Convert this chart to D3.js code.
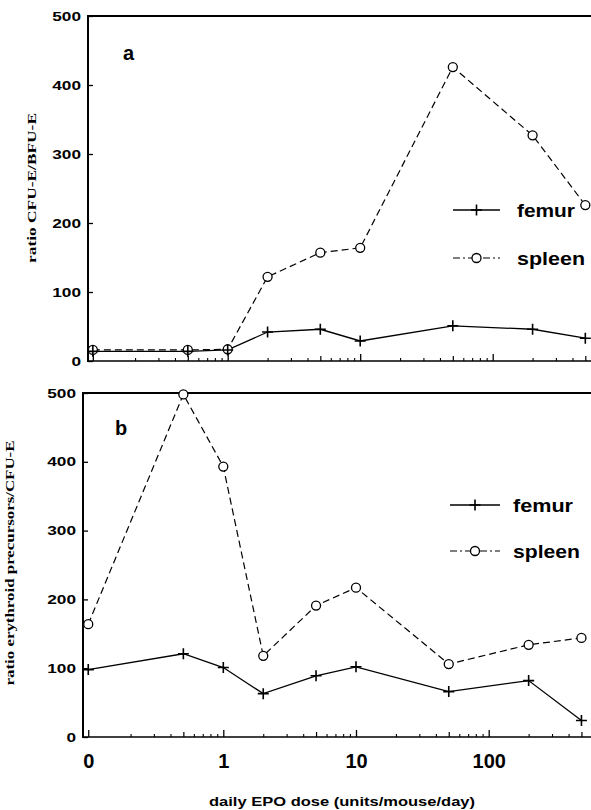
<!DOCTYPE html>
<html><head><meta charset="utf-8">
<script src="https://cdn.jsdelivr.net/npm/d3@7"></script>
<style>body{margin:0;background:#fff}svg{display:block}</style>
</head><body>
<svg id="c" width="591" height="810"></svg>
<script>
// ---- data ----
const doses = [0, 0.5, 1, 2, 5, 10, 50, 200, 500];
const zeroProxy = 0.096; // where the "0" dose sits on the log axis
const aFemur  = [14, 14, 16, 42, 46, 29, 51, 46, 33];
const aSpleen = [16, 16, 17, 122, 157, 164, 426, 327, 226];
const bFemur  = [98, 121, 101, 63, 89, 102, 66, 82, 24];
const bSpleen = [164, 498, 393, 118, 191, 217, 106, 134, 144];
const yTicks = [0, 100, 200, 300, 400, 500];
const xMajor = [0, 1, 10, 100];
const xMajorLabels = ["0", "1", "10", "100"];
const xMid = [0.5, 5, 50, 500];
const xMinor = [0.2,0.3,0.4,0.6,0.7,0.8,0.9, 2,3,4,6,7,8,9, 20,30,40,60,70,80,90, 200,300,400,600];
const seriesNames = ["femur", "spleen"];
const panelLabels = ["a", "b"];
const yTitles = ["ratio CFU-E/BFU-E", "ratio erythroid precursors/CFU-E"];
const xTitle = "daily EPO dose (units/mouse/day)";

// ---- layout ----
const W = 591;
const panels = [
  {femur: aFemur, spleen: aSpleen, axisX: 88, x1: 227.7, dec: 132.5, top: 16, bottom: 361,
   label: {x: 123, y: 60}, title: {x: 36, y: 188, len: 150},
   legend: {x0: 453, x1: 500, yF: 210, yS: 258, tx: 517, lenF: 58, lenS: 68}, showX: false},
  {femur: bFemur, spleen: bSpleen, axisX: 83, x1: 223.3, dec: 132.7, top: 393, bottom: 737,
   label: {x: 115, y: 435}, title: {x: 14, y: 563, len: 245},
   legend: {x0: 450, x1: 500, yF: 505, yS: 551, tx: 513, lenF: 60, lenS: 67}, showX: true}
];

const svg = d3.select("#c");
const sans = "'Liberation Sans', Arial, Helvetica, sans-serif";
const serif = "'Liberation Serif', 'Times New Roman', serif";

panels.forEach((p, pi) => {
  const x = d3.scaleLog().domain([1, 10]).range([p.x1, p.x1 + p.dec]);
  const xd = d => x(d === 0 ? zeroProxy : d);
  const y = d3.scaleLinear().domain([0, 500]).range([p.bottom, p.top]);
  const g = svg.append("g");

  // frame lines
  g.append("line").attr("x1", p.axisX).attr("x2", W + 5).attr("y1", y(500)).attr("y2", y(500))
    .attr("stroke", "#000").attr("stroke-width", 2);
  g.append("line").attr("x1", p.axisX).attr("x2", p.axisX).attr("y1", y(500) - 1).attr("y2", y(0) + 1)
    .attr("stroke", "#000").attr("stroke-width", 2);
  g.append("line").attr("x1", p.axisX).attr("x2", W + 5).attr("y1", y(0)).attr("y2", y(0))
    .attr("stroke", "#000").attr("stroke-width", 1.6);

  // y axis
  const ya = g.append("g").attr("transform", `translate(${p.axisX},0)`)
    .call(d3.axisLeft(y).tickValues(yTicks).tickSizeInner(-5).tickSizeOuter(0).tickPadding(7));
  ya.select(".domain").remove();
  ya.selectAll(".tick line").attr("stroke-width", 1.3);
  ya.selectAll("text").attr("font-family", sans).attr("font-weight", "bold").attr("font-size", 12.5)
    .attr("fill", "#000").attr("x", -7 / 1.38).attr("transform", "scale(1.38,1)");

  // x axis ticks (inward)
  const xg = g.append("g").attr("transform", `translate(0,${y(0)})`);
  const majorAx = d3.axisBottom(x).tickValues(xMajor.map(d => d === 0 ? zeroProxy : d))
    .tickSizeInner(-7).tickSizeOuter(0).tickPadding(17)
    .tickFormat((d, i) => p.showX ? xMajorLabels[i] : "");
  const ma = xg.append("g").call(majorAx);
  ma.select(".domain").remove();
  ma.selectAll(".tick line").attr("stroke-width", 1.3);
  ma.selectAll("text").attr("font-family", sans).attr("font-weight", "bold").attr("font-size", 20).attr("fill", "#000");
  const mid = xg.append("g").call(d3.axisBottom(x).tickValues(xMid).tickSizeInner(-5).tickSizeOuter(0).tickFormat(""));
  mid.select(".domain").remove();
  mid.selectAll(".tick line").attr("stroke-width", 1.2);
  const mn = xg.append("g").call(d3.axisBottom(x).tickValues(xMinor.filter(d => x(d) < W + 2)).tickSizeInner(-3).tickSizeOuter(0).tickFormat(""));
  mn.select(".domain").remove();
  mn.selectAll(".tick line").attr("stroke-width", 1.1);

  // lines
  const line = d3.line().x((d, i) => xd(doses[i])).y(d => y(d));
  g.append("path").datum(p.spleen).attr("d", line).attr("fill", "none").attr("stroke", "#000")
    .attr("stroke-width", 1.2).attr("stroke-dasharray", "7,4");
  g.append("path").datum(p.femur).attr("d", line).attr("fill", "none").attr("stroke", "#000")
    .attr("stroke-width", 1.3);

  // markers
  g.selectAll(".sp").data(p.spleen).join("circle").attr("class", "sp")
    .attr("cx", (d, i) => xd(doses[i])).attr("cy", d => y(d)).attr("r", 4.5)
    .attr("fill", "#fff").attr("stroke", "#000").attr("stroke-width", 1.3);
  g.selectAll(".fm").data(p.femur).join("path").attr("class", "fm")
    .attr("transform", (d, i) => `translate(${xd(doses[i])},${y(d)})`)
    .attr("d", "M-5.5,0H5.5M0,-5.5V5.5").attr("stroke", "#000").attr("stroke-width", 1.6).attr("fill", "none");

  // panel label
  g.append("text").attr("x", p.label.x).attr("y", p.label.y).text(panelLabels[pi])
    .attr("font-family", sans).attr("font-weight", "bold").attr("font-size", 20);

  // y title
  g.append("text").attr("transform", `translate(${p.title.x},${p.title.y}) rotate(-90)`)
    .attr("text-anchor", "middle").text(yTitles[pi])
    .attr("font-family", serif).attr("font-size", 12.5).attr("font-weight", "bold")
    .attr("textLength", p.title.len).attr("lengthAdjust", "spacingAndGlyphs");

  // legend
  const L = p.legend;
  g.append("line").attr("x1", L.x0).attr("x2", L.x1).attr("y1", L.yF).attr("y2", L.yF)
    .attr("stroke", "#000").attr("stroke-width", 1.3);
  g.append("path").attr("transform", `translate(${(L.x0 + L.x1) / 2},${L.yF})`)
    .attr("d", "M-5.5,0H5.5M0,-5.5V5.5").attr("stroke", "#000").attr("stroke-width", 1.6);
  g.append("line").attr("x1", L.x0).attr("x2", L.x1).attr("y1", L.yS).attr("y2", L.yS)
    .attr("stroke", "#000").attr("stroke-width", 1.2).attr("stroke-dasharray", "7,3,2,3");
  g.append("circle").attr("cx", (L.x0 + L.x1) / 2).attr("cy", L.yS).attr("r", 4.5)
    .attr("fill", "#fff").attr("stroke", "#000").attr("stroke-width", 1.3);
  g.append("text").attr("x", L.tx).attr("y", L.yF + 7).text(seriesNames[0])
    .attr("font-family", sans).attr("font-weight", "bold").attr("font-size", 18)
    .attr("textLength", L.lenF).attr("lengthAdjust", "spacingAndGlyphs");
  g.append("text").attr("x", L.tx).attr("y", L.yS + 7).text(seriesNames[1])
    .attr("font-family", sans).attr("font-weight", "bold").attr("font-size", 18)
    .attr("textLength", L.lenS).attr("lengthAdjust", "spacingAndGlyphs");
});

// x title
svg.append("text").attr("x", 342).attr("y", 806).attr("text-anchor", "middle").text(xTitle)
  .attr("font-family", sans).attr("font-weight", "bold").attr("font-size", 12.5)
  .attr("textLength", 266).attr("lengthAdjust", "spacingAndGlyphs");
</script>
</body></html>
